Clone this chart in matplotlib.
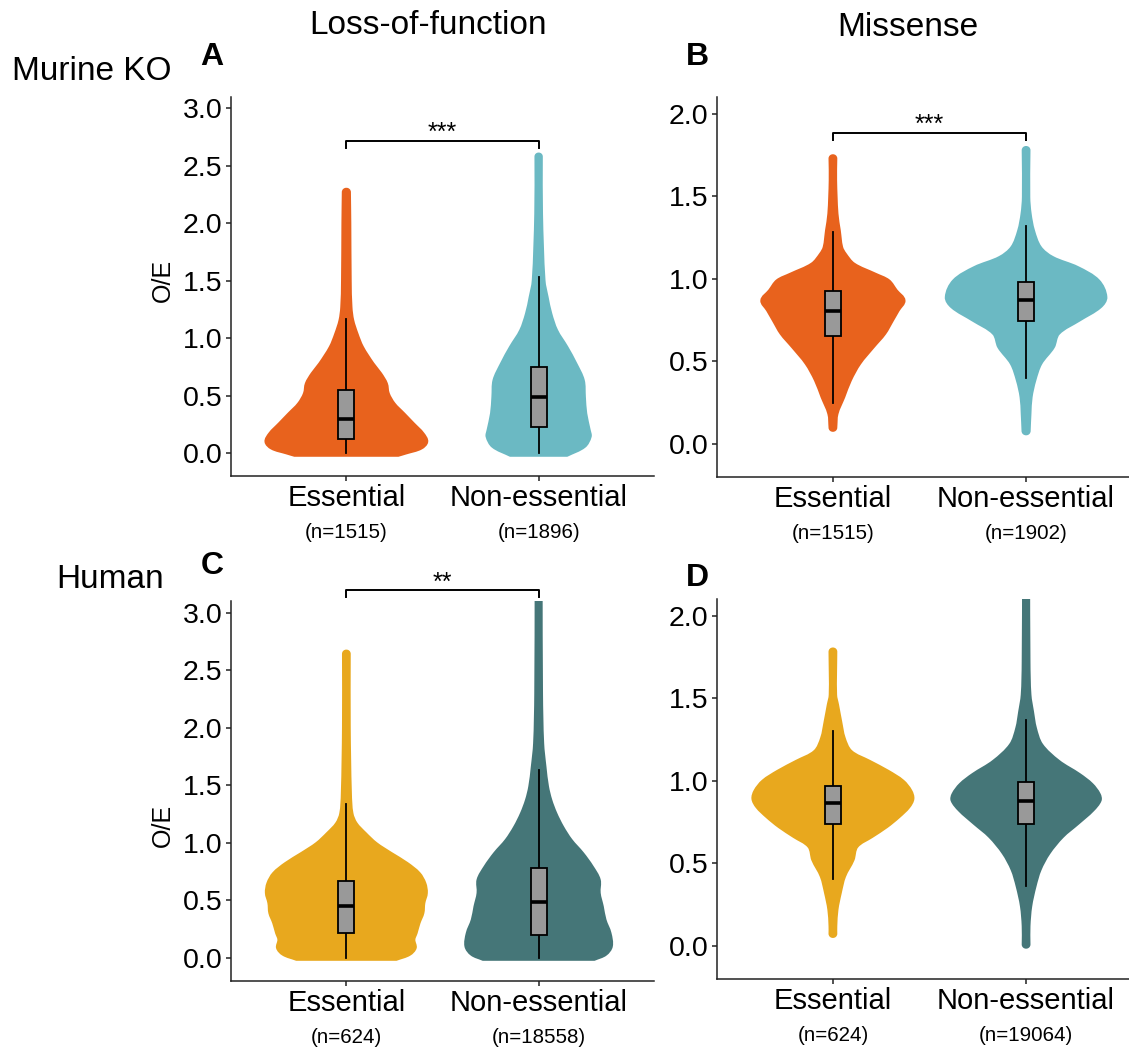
import matplotlib
matplotlib.use("Agg")
import numpy as np
import matplotlib.pyplot as plt
from matplotlib.patches import Rectangle, PathPatch
from matplotlib.path import Path

plt.rcParams['font.family'] = ['Liberation Sans', 'DejaVu Sans']

# categories and counts
categories = ["Essential", "Non-essential"]
n_lof_murine = ["(n=1515)", "(n=1896)"]
n_mis_murine = ["(n=1515)", "(n=1902)"]
n_lof_human = ["(n=624)", "(n=18558)"]
n_mis_human = ["(n=624)", "(n=19064)"]

# violin outlines: O/E value and half-width
A_ess_y = [-0.023, -0.003, 0.04, 0.098, 0.171, 0.258, 0.345, 0.431, 0.519, 0.606, 0.693, 0.78, 0.925, 1.04, 1.157, 1.27, 1.50, 2.0, 2.27]
A_ess_w = [0.27, 0.31, 0.39, 0.42, 0.40, 0.35, 0.30, 0.25, 0.22, 0.21, 0.18, 0.14, 0.085, 0.057, 0.035, 0.026, 0.022, 0.02, 0.018]
A_non_y = [-0.023, 0.055, 0.142, 0.2, 0.345, 0.49, 0.635, 0.78, 0.925, 1.07, 1.215, 1.359, 1.504, 2.084, 2.58]
A_non_w = [0.148, 0.24, 0.27, 0.265, 0.247, 0.24, 0.234, 0.195, 0.148, 0.095, 0.065, 0.046, 0.03, 0.017, 0.016]

B_ess_y = [0.10, 0.182, 0.283, 0.384, 0.485, 0.585, 0.667, 0.747, 0.808, 0.869, 0.929, 0.99, 1.03, 1.091, 1.152, 1.192, 1.293, 1.394, 1.596, 1.727]
B_ess_w = [0.017, 0.023, 0.058, 0.092, 0.14, 0.21, 0.27, 0.31, 0.34, 0.37, 0.33, 0.29, 0.22, 0.11, 0.065, 0.047, 0.035, 0.023, 0.016, 0.017]
B_non_y = [0.08, 0.182, 0.283, 0.384, 0.485, 0.585, 0.667, 0.747, 0.828, 0.889, 0.99, 1.07, 1.131, 1.192, 1.293, 1.394, 1.495, 1.777]
B_non_w = [0.018, 0.022, 0.028, 0.047, 0.078, 0.143, 0.17, 0.276, 0.386, 0.415, 0.376, 0.268, 0.138, 0.075, 0.04, 0.023, 0.016, 0.017]

C_ess_y = [-0.015, 0.029, 0.087, 0.159, 0.217, 0.304, 0.39, 0.477, 0.564, 0.65, 0.737, 0.824, 0.911, 0.997, 1.084, 1.171, 1.257, 1.431, 2.009, 2.64]
C_ess_w = [0.26, 0.33, 0.36, 0.353, 0.365, 0.38, 0.40, 0.405, 0.418, 0.41, 0.38, 0.317, 0.234, 0.156, 0.1, 0.052, 0.031, 0.023, 0.017, 0.017]
C_non_y = [-0.015, 0.029, 0.1, 0.217, 0.332, 0.448, 0.564, 0.68, 0.795, 0.911, 1.026, 1.14, 1.257, 1.373, 1.49, 1.66, 1.865, 2.298, 3.3]
C_non_w = [0.29, 0.35, 0.38, 0.373, 0.347, 0.333, 0.317, 0.317, 0.28, 0.23, 0.17, 0.126, 0.091, 0.065, 0.048, 0.035, 0.023, 0.017, 0.015]

D_ess_y = [0.075, 0.12, 0.22, 0.32, 0.42, 0.52, 0.60, 0.66, 0.72, 0.78, 0.84, 0.89, 0.94, 1.0, 1.06, 1.12, 1.18, 1.26, 1.36, 1.46, 1.52, 1.78]
D_ess_w = [0.017, 0.017, 0.023, 0.04, 0.062, 0.106, 0.126, 0.203, 0.28, 0.343, 0.395, 0.416, 0.405, 0.364, 0.286, 0.19, 0.095, 0.06, 0.042, 0.026, 0.016, 0.017]
D_non_y = [0.01, 0.12, 0.24, 0.36, 0.46, 0.56, 0.66, 0.74, 0.82, 0.88, 0.92, 0.98, 1.04, 1.12, 1.22, 1.32, 1.42, 1.52, 1.72, 2.3]
D_non_w = [0.017, 0.017, 0.026, 0.048, 0.074, 0.12, 0.19, 0.27, 0.347, 0.385, 0.38, 0.342, 0.277, 0.17, 0.082, 0.05, 0.035, 0.022, 0.017, 0.015]

# box stats: whisker low, q1, median, q3, whisker high
A_box = [[0.0, 0.122, 0.298, 0.548, 1.17], [0.0, 0.223, 0.49, 0.75, 1.53]]
B_box = [[0.246, 0.651, 0.804, 0.924, 1.283], [0.398, 0.743, 0.869, 0.978, 1.319]]
C_box = [[0.0, 0.217, 0.448, 0.67, 1.338], [0.0, 0.202, 0.486, 0.777, 1.633]]
D_box = [[0.406, 0.74, 0.866, 0.966, 1.304], [0.36, 0.74, 0.88, 0.992, 1.37]]

# significance brackets: (bar height, tip height, label)
A_sig = (2.72, 2.66, "***")
B_sig = (1.885, 1.84, "***")
C_sig = (3.194, 3.136, "**")

murine_colors = ["#E8621D", "#6BB9C3"]
human_colors = ["#E8A81E", "#457678"]
box_grey = "#999999"

W, H = 1129, 1051
fig = plt.figure(figsize=(W / 100, H / 100), dpi=100)


def px_axes(left, top, right, bottom):
    return fig.add_axes([left / W, 1 - bottom / H, (right - left) / W, (bottom - top) / H])


def smooth_side(pts, k):
    # cubic pieces through the points; k = x/y pixel ratio so tangents follow the drawn shape
    p = np.array(pts, dtype=float)
    p[:, 0] *= k
    m = len(p)
    tan = np.zeros_like(p)
    tan[0] = p[1] - p[0]
    tan[-1] = p[-1] - p[-2]
    tan[1:-1] = p[2:] - p[:-2]
    tan /= np.linalg.norm(tan, axis=1)[:, None]
    verts = []
    for i in range(m - 1):
        L = np.linalg.norm(p[i + 1] - p[i]) / 3
        verts += [p[i] + tan[i] * L, p[i + 1] - tan[i + 1] * L, p[i + 1]]
    verts = np.array(verts)
    verts[:, 0] /= k
    return [tuple(v) for v in verts]


def cap(x, y, w, k, sign):
    # rounded end of a thin tail (sign +1 top, -1 bottom)
    d = sign * 4 / 3 * w * k
    if sign > 0:
        return [(x + w, y + d), (x - w, y + d), (x - w, y)]
    return [(x - w, y + d), (x + w, y + d), (x + w, y)]


def violin_patch(x, ys, ws, col, k):
    right = [(x + w, y) for y, w in zip(ys, ws)]
    left = [(x - w, y) for y, w in reversed(list(zip(ys, ws)))]
    rv = smooth_side(right, k)
    lv = smooth_side(left, k)
    verts = [right[0]] + rv + cap(x, ys[-1], ws[-1], k, 1) + lv
    codes = [Path.MOVETO] + [Path.CURVE4] * (len(rv) + 3 + len(lv))
    if ws[0] < 0.05:
        verts += cap(x, ys[0], ws[0], k, -1)
        codes += [Path.CURVE4] * 3
    else:
        verts += [right[0]]
        codes += [Path.LINETO]
    verts += [right[0]]
    codes += [Path.CLOSEPOLY]
    return PathPatch(Path(verts, codes), facecolor=col, edgecolor=col,
                     linewidth=1.6, joinstyle='round', zorder=1)


def draw_panel(ax, violins, boxes, colors, ylim, yticks, ns, sig=None):
    k = (ax.get_position().width * W / 2.2) / (ax.get_position().height * H / (ylim[1] - ylim[0]))
    for i, ((vy, vw), box, col) in enumerate(zip(violins, boxes, colors)):
        x = i + 1
        ax.add_patch(violin_patch(x, vy, vw, col, k))
        lo, q1, med, q3, hi = box
        ax.plot([x, x], [lo, q1], color='black', lw=1.3, zorder=2)
        ax.plot([x, x], [q3, hi], color='black', lw=1.3, zorder=2)
        ax.add_patch(Rectangle((x - 0.041, q1), 0.082, q3 - q1, facecolor=box_grey,
                               edgecolor='black', lw=1.3, zorder=3))
        ax.plot([x - 0.041, x + 0.041], [med, med], color='black', lw=2.6,
                solid_capstyle='butt', zorder=4)
    ax.set_xlim(0.4, 2.6)
    ax.set_ylim(*ylim)
    ax.set_yticks(yticks)
    ax.set_yticklabels([f"{t:.1f}" for t in yticks])
    ax.set_xticks([1, 2])
    ax.set_xticklabels(categories)
    for s in ['top', 'right']:
        ax.spines[s].set_visible(False)
    for s in ['left', 'bottom']:
        ax.spines[s].set_linewidth(1.1)
        ax.spines[s].set_color('#222222')
    ax.tick_params(axis='both', direction='out', length=3.6, width=1.1,
                   color='#222222', labelcolor='black', pad=2.5)
    ax.tick_params(axis='y', labelsize=20.5)
    ax.tick_params(axis='x', labelsize=21)
    for i, lab in enumerate(ns):
        ax.annotate(lab, xy=(i + 1, 0), xycoords=ax.get_xaxis_transform(),
                    xytext=(0, -41), textcoords='offset points',
                    ha='center', va='center', fontsize=14.8)
    if sig is not None:
        yb, yt, lab = sig
        ax.plot([1, 1, 2, 2], [yt, yb, yb, yt], color='black', lw=1.4,
                clip_on=False, zorder=5)
        ax.annotate(lab, xy=(1.5, yb), xytext=(0, 0.5), textcoords='offset points',
                    ha='center', va='baseline', fontsize=18, annotation_clip=False)


axA = px_axes(231, 97, 654, 476)
axB = px_axes(717, 97, 1142, 477)
axC = px_axes(231, 601, 654, 981)
axD = px_axes(717, 599, 1142, 979)

draw_panel(axA, [(A_ess_y, A_ess_w), (A_non_y, A_non_w)], A_box, murine_colors,
           (-0.2, 3.1), [0.0, 0.5, 1.0, 1.5, 2.0, 2.5, 3.0], n_lof_murine, A_sig)
draw_panel(axB, [(B_ess_y, B_ess_w), (B_non_y, B_non_w)], B_box, murine_colors,
           (-0.2, 2.1), [0.0, 0.5, 1.0, 1.5, 2.0], n_mis_murine, B_sig)
draw_panel(axC, [(C_ess_y, C_ess_w), (C_non_y, C_non_w)], C_box, human_colors,
           (-0.2, 3.1), [0.0, 0.5, 1.0, 1.5, 2.0, 2.5, 3.0], n_lof_human, C_sig)
draw_panel(axD, [(D_ess_y, D_ess_w), (D_non_y, D_non_w)], D_box, human_colors,
           (-0.2, 2.1), [0.0, 0.5, 1.0, 1.5, 2.0], n_mis_human)

axA.text(-0.162, 0.515, "O/E", transform=axA.transAxes, rotation=90,
         ha='center', va='center', fontsize=18)
axC.text(-0.162, 0.41, "O/E", transform=axC.transAxes, rotation=90,
         ha='center', va='center', fontsize=18)

# column / row titles and panel letters
fig.text(428 / W, 1 - 25 / H, "Loss-of-function", ha='center', va='center', fontsize=24)
fig.text(908 / W, 1 - 28 / H, "Missense", ha='center', va='center', fontsize=24)
fig.text(92 / W, 1 - 72 / H, "Murine KO", ha='center', va='center', fontsize=24)
fig.text(110 / W, 1 - 580 / H, "Human", ha='center', va='center', fontsize=24)
for lab, x, y in [("A", 212, 57), ("B", 697, 57), ("C", 212, 566), ("D", 697, 578)]:
    fig.text(x / W, 1 - y / H, lab, ha='center', va='center', fontsize=23, fontweight='bold')

fig.savefig("out.png", dpi=100)
